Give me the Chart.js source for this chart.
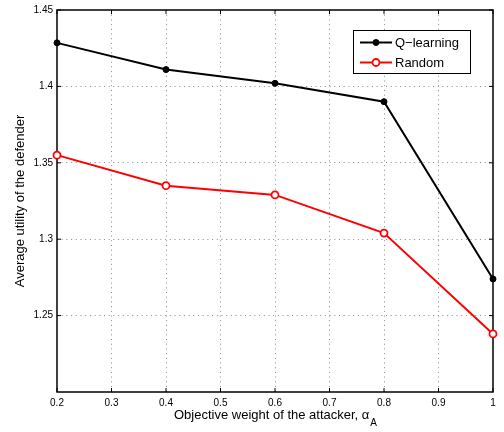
<!DOCTYPE html>
<html>
<head>
<meta charset="utf-8">
<script src="https://cdn.jsdelivr.net/npm/chart.js@4"></script>
<style>
html,body{margin:0;padding:0;background:#fff;}
#wrap{width:504px;height:432px;}
</style>
</head>
<body>
<div id="wrap"><canvas id="c" width="504" height="432"></canvas></div>
<script>
const xValues = [0.2, 0.4, 0.6, 0.8, 1.0];
const qLearning = [1.4285, 1.411, 1.402, 1.390, 1.274];
const randomVals = [1.355, 1.335, 1.329, 1.304, 1.238];
const seriesNames = ['Q\u2212learning', 'Random'];
const xTicks = [0.2, 0.3, 0.4, 0.5, 0.6, 0.7, 0.8, 0.9, 1.0];
const xTickLabels = ['0.2','0.3','0.4','0.5','0.6','0.7','0.8','0.9','1'];
const yTicks = [1.25, 1.3, 1.35, 1.4, 1.45];
const yTickLabels = ['1.25','1.3','1.35','1.4','1.45'];
const xTitle = 'Objective weight of the attacker, \u03B1';
const xTitleSub = 'A';
const yTitle = 'Average utility of the defender';

const FONT = '"Liberation Sans", Arial, Helvetica, sans-serif';

const gridColor = (ctx, n) => (ctx.index === 0 || ctx.index === n - 1) ? 'rgba(0,0,0,0)' : '#8a8a8a';

const decor = {
  id: 'decor',
  beforeDatasetsDraw(chart) {
    const {ctx, chartArea: a, scales} = chart;
    ctx.save();
    ctx.strokeStyle = '#000';
    ctx.lineWidth = 1.5;
    ctx.strokeRect(a.left, a.top, a.right - a.left, a.bottom - a.top);
    ctx.lineWidth = 1;
    const tl = 4;
    xTicks.forEach(v => {
      const x = scales.x.getPixelForValue(v);
      ctx.beginPath();
      ctx.moveTo(x, a.bottom); ctx.lineTo(x, a.bottom - tl);
      ctx.moveTo(x, a.top); ctx.lineTo(x, a.top + tl);
      ctx.stroke();
    });
    yTicks.forEach(v => {
      const y = scales.y.getPixelForValue(v);
      ctx.beginPath();
      ctx.moveTo(a.left, y); ctx.lineTo(a.left + tl, y);
      ctx.moveTo(a.right, y); ctx.lineTo(a.right - tl, y);
      ctx.stroke();
    });
    ctx.restore();
  },
  afterDraw(chart) {
    const {ctx, chartArea: a} = chart;
    ctx.save();
    ctx.fillStyle = '#000';
    ctx.font = '13px ' + FONT;
    ctx.textBaseline = 'alphabetic';
    const w1 = ctx.measureText(xTitle).width;
    ctx.font = '10px ' + FONT;
    const w2 = ctx.measureText(xTitleSub).width;
    const cx = (a.left + a.right) / 2;
    let sx = cx - (w1 + w2) / 2;
    ctx.font = '13px ' + FONT;
    ctx.textAlign = 'left';
    ctx.fillText(xTitle, sx, 419);
    ctx.font = '10px ' + FONT;
    ctx.fillText(xTitleSub, sx + w1 + 1, 426);
    ctx.font = '13px ' + FONT;
    ctx.translate(20, (a.top + a.bottom) / 2);
    ctx.rotate(-Math.PI / 2);
    ctx.textAlign = 'center';
    ctx.textBaseline = 'middle';
    ctx.fillText(yTitle, 0, 0);
    ctx.restore();

    ctx.save();
    const lx = 353, ly = 30, lw = 117, lh = 43;
    ctx.fillStyle = '#fff';
    ctx.fillRect(lx, ly, lw, lh);
    ctx.strokeStyle = '#000';
    ctx.lineWidth = 1;
    ctx.strokeRect(lx + 0.5, ly + 0.5, lw, lh);
    const rows = [42.5, 62.5];
    chart.data.datasets.forEach((ds, i) => {
      const y = rows[i];
      ctx.strokeStyle = ds.borderColor;
      ctx.lineWidth = 2;
      ctx.beginPath(); ctx.moveTo(360, y); ctx.lineTo(392, y); ctx.stroke();
      ctx.beginPath();
      ctx.arc(376, y, ds.pointRadius, 0, Math.PI * 2);
      ctx.fillStyle = ds.pointBackgroundColor;
      ctx.fill();
      ctx.lineWidth = ds.pointBorderWidth;
      ctx.strokeStyle = ds.pointBorderColor;
      ctx.stroke();
      ctx.fillStyle = '#000';
      ctx.font = '13px ' + FONT;
      ctx.textAlign = 'left';
      ctx.textBaseline = 'middle';
      ctx.fillText(ds.label, 395, y + 0.5);
    });
    ctx.restore();
  }
};

new Chart(document.getElementById('c'), {
  type: 'line',
  data: {
    datasets: [
      {
        label: seriesNames[0],
        data: xValues.map((x, i) => ({x, y: qLearning[i]})),
        borderColor: '#000',
        borderWidth: 2,
        pointRadius: 3,
        pointBackgroundColor: '#000',
        pointBorderColor: '#000',
        pointBorderWidth: 1,
        tension: 0,
        clip: false
      },
      {
        label: seriesNames[1],
        data: xValues.map((x, i) => ({x, y: randomVals[i]})),
        borderColor: '#ff0000',
        borderWidth: 2,
        pointRadius: 3.5,
        pointBackgroundColor: '#fff',
        pointBorderColor: '#ff0000',
        pointBorderWidth: 1.8,
        tension: 0,
        clip: false
      }
    ]
  },
  options: {
    responsive: false,
    animation: false,
    layout: {padding: {left: 0, right: 11, top: 9, bottom: 0}},
    plugins: {legend: {display: false}, tooltip: {enabled: false}},
    scales: {
      x: {
        type: 'linear',
        min: 0.2, max: 1.0,
        afterFit: s => { s.height = 40; },
        afterBuildTicks: s => { s.ticks = xTicks.map(v => ({value: v})); },
        ticks: {
          callback: (v, i) => xTickLabels[i],
          font: {family: FONT, size: 10},
          color: '#000',
          padding: 5,
          maxRotation: 0,
          autoSkip: false
        },
        grid: {
          drawTicks: false,
          color: c => gridColor(c, xTicks.length),
          lineWidth: 1
        },
        border: {display: false, dash: [1, 3.7]}
      },
      y: {
        type: 'linear',
        min: 1.2, max: 1.45,
        afterFit: s => { s.width = 57; },
        afterBuildTicks: s => { s.ticks = yTicks.map(v => ({value: v})); },
        ticks: {
          callback: (v, i) => yTickLabels[i],
          font: {family: FONT, size: 10},
          color: '#000',
          padding: 4,
          autoSkip: false
        },
        grid: {
          drawTicks: false,
          color: c => (c.index === yTicks.length - 1) ? 'rgba(0,0,0,0)' : '#8a8a8a',
          lineWidth: 1
        },
        border: {display: false, dash: [1, 3.7]}
      }
    }
  },
  plugins: [decor]
});
</script>
</body>
</html>
